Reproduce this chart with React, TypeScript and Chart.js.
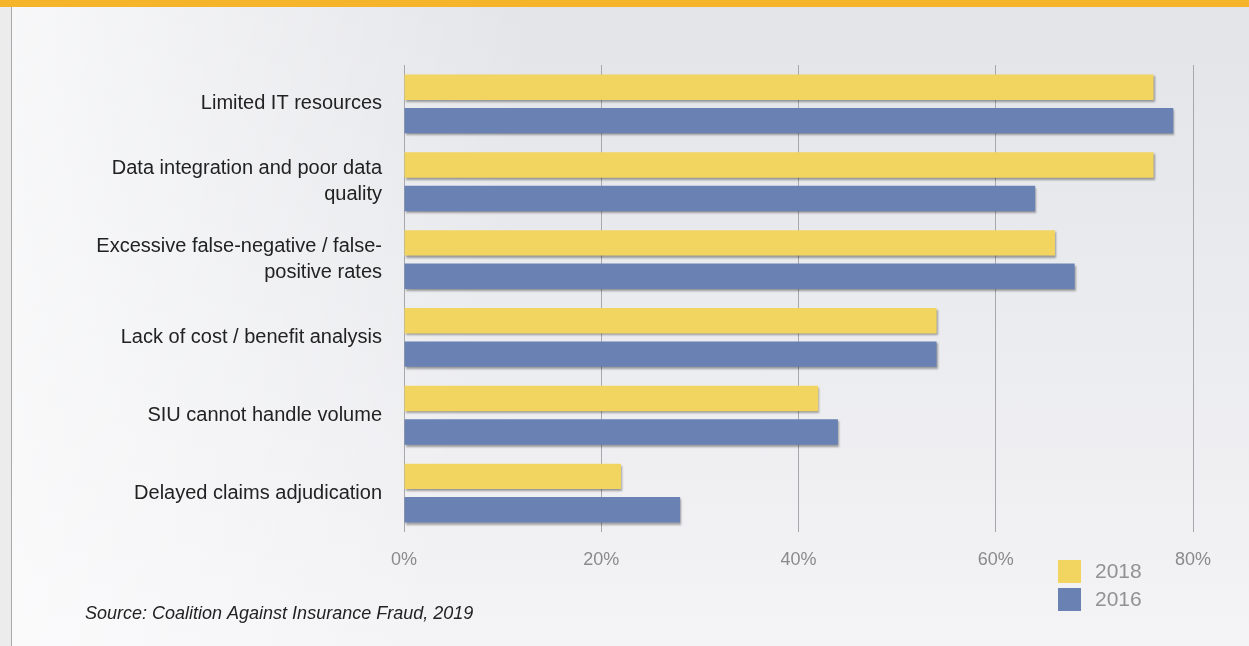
import React, { useEffect, useRef } from "react";
import { Chart, registerables } from "chart.js";

Chart.register(...registerables);

const CATEGORIES: (string | string[])[] = [
  "Limited IT resources",
  ["Data integration and poor data", "quality"],
  ["Excessive false-negative / false-", "positive rates"],
  "Lack of cost / benefit analysis",
  "SIU cannot handle volume",
  "Delayed claims adjudication",
];
const SERIES_2018 = [76, 76, 66, 54, 42, 22];
const SERIES_2016 = [78, 64, 68, 54, 44, 28];
const SERIES_LABELS = ["2018", "2016"];
const SERIES_COLORS = ["#f2d560", "#6a81b4"];
const X_TICKS_MAX = 80;
const SOURCE_TEXT = "Source: Coalition Against Insurance Fraud, 2019";

const W = 1249;
const H = 646;
const FONT = "'Liberation Sans', Arial, sans-serif";

const shadowPlugin = {
  id: "barShadow",
  beforeDatasetsDraw(chart: any) {
    const ctx = chart.ctx;
    ctx.save();
    ctx.shadowColor = "rgba(0,0,0,0.35)";
    ctx.shadowBlur = 2;
    ctx.shadowOffsetX = 1;
    ctx.shadowOffsetY = 2;
  },
  afterDatasetsDraw(chart: any) {
    chart.ctx.restore();
  },
};

const extrasPlugin = {
  id: "extras",
  afterDraw(chart: any) {
    const ctx = chart.ctx;
    ctx.save();
    const ds = chart.data.datasets;
    ds.forEach((d: any, i: number) => {
      const y = 560 + i * 28;
      ctx.fillStyle = d.backgroundColor;
      ctx.fillRect(1058, y, 23, 23);
      ctx.fillStyle = "#929292";
      ctx.font = `21px ${FONT}`;
      ctx.textBaseline = "middle";
      ctx.textAlign = "left";
      ctx.fillText(d.label, 1095, y + 12);
    });
    ctx.fillStyle = "#222";
    ctx.font = `italic 18px ${FONT}`;
    ctx.textBaseline = "middle";
    ctx.textAlign = "left";
    ctx.fillText(SOURCE_TEXT, 85, 614);
    ctx.restore();
  },
};

export default function App() {
  const ref = useRef<HTMLCanvasElement | null>(null);

  useEffect(() => {
    if (!ref.current) return;
    const chart = new Chart(ref.current, {
      type: "bar",
      data: {
        labels: CATEGORIES as any,
        datasets: [
          {
            label: SERIES_LABELS[0],
            data: SERIES_2018,
            backgroundColor: SERIES_COLORS[0],
            categoryPercentage: 0.86,
            barPercentage: 0.76,
          },
          {
            label: SERIES_LABELS[1],
            data: SERIES_2016,
            backgroundColor: SERIES_COLORS[1],
            categoryPercentage: 0.86,
            barPercentage: 0.76,
          },
        ],
      },
      options: {
        indexAxis: "y",
        responsive: false,
        animation: false,
        devicePixelRatio: 1,
        layout: { padding: { top: 65, right: 56, bottom: 0, left: 0 } },
        plugins: {
          legend: { display: false },
          tooltip: { enabled: false },
          title: { display: false },
        },
        scales: {
          x: {
            min: 0,
            max: X_TICKS_MAX,
            ticks: {
              stepSize: 20,
              padding: 17,
              color: "#8a8a8a",
              font: { family: FONT, size: 18 },
              callback: (v: any) => `${v}%`,
            },
            grid: { display: true, drawTicks: false, color: "#a8a8ac", lineWidth: 1 },
            border: { display: false },
            afterFit: (s: any) => {
              s.height = H - 532;
            },
          },
          y: {
            ticks: {
              padding: 22,
              color: "#222",
              font: { family: FONT, size: 20, lineHeight: 1.3 },
            },
            grid: { display: false, drawTicks: false },
            border: { display: false },
            afterFit: (s: any) => {
              s.width = 404;
            },
          },
        },
      },
      plugins: [shadowPlugin, extrasPlugin],
    } as any);
    return () => chart.destroy();
  }, []);

  return (
    <div
      style={{
        position: "fixed",
        left: 0,
        top: 0,
        width: W,
        height: H,
        overflow: "hidden",
        background:
          "linear-gradient(100deg, rgba(255,255,255,0.75) 0%, rgba(255,255,255,0.35) 22%, rgba(255,255,255,0) 40%), linear-gradient(to bottom, #e3e4e8 0%, #eaebee 45%, #f4f3f6 100%)",
      }}
    >
      <div style={{ position: "absolute", left: 0, top: 0, width: W, height: 7, background: "#f5b42a" }} />
      <div style={{ position: "absolute", left: 0, top: 7, width: 11, height: H - 7, background: "#ececec", borderRight: "1px solid #a9a9a9" }} />
      <canvas ref={ref} width={W} height={H} style={{ position: "absolute", left: 0, top: 0, width: W, height: H }} />
    </div>
  );
}
